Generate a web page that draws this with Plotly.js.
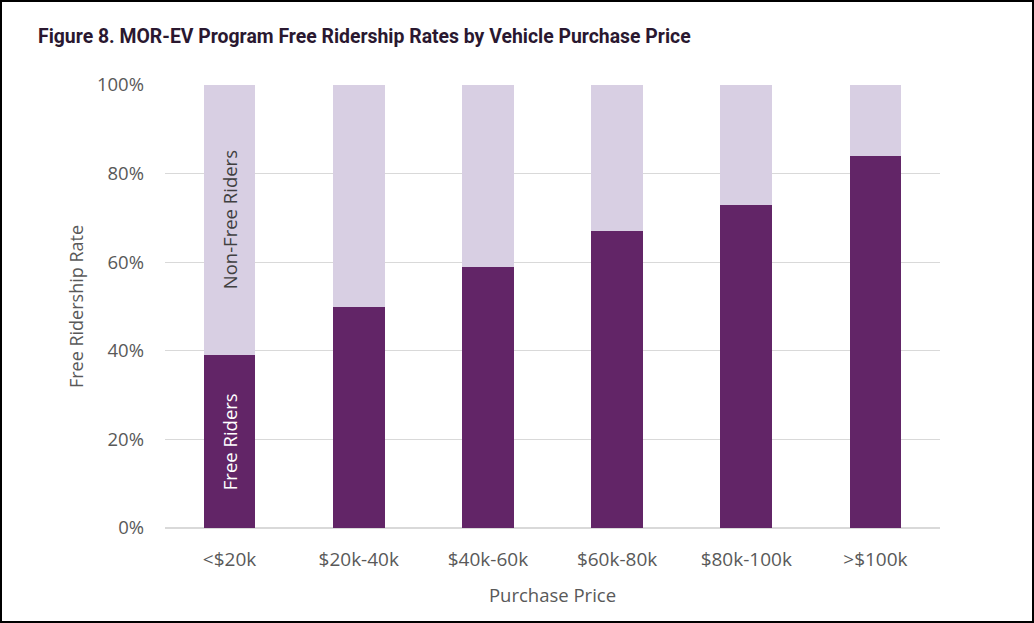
<!DOCTYPE html>
<html><head><meta charset="utf-8">
<script src="https://cdn.plot.ly/plotly-3.0.1.min.js"></script>
<style>
html,body{margin:0;padding:0;background:#fff;}
#wrap{position:relative;width:1034px;height:623px;}
#chart{width:1034px;height:623px;}
#frame{position:absolute;left:0;top:0;width:1034px;height:623px;box-sizing:border-box;border:2px solid #000;pointer-events:none;}
</style></head>
<body>
<div id="wrap"><div id="chart"></div><div id="frame"></div></div>
<script>
const categories = ['<$20k', '$20k-40k', '$40k-60k', '$60k-80k', '$80k-100k', '>$100k'];
const freeRiders = [0.39, 0.50, 0.59, 0.67, 0.73, 0.84];
const nonFreeRiders = [0.61, 0.50, 0.41, 0.33, 0.27, 0.16];
const yTicks = [0, 0.2, 0.4, 0.6, 0.8, 1.0];

const fontFam = 'Open Sans, Carlito, Arial, sans-serif';
const data = [
  {type:'bar', name:'Free Riders', x:categories, y:freeRiders, marker:{color:'#622567'}, width:0.4, hoverinfo:'none'},
  {type:'bar', name:'Non-Free Riders', x:categories, y:nonFreeRiders, marker:{color:'#d8cfe3'}, width:0.4, hoverinfo:'none'}
];
const layout = {
  width:1034, height:623,
  barmode:'stack',
  showlegend:false,
  paper_bgcolor:'#fff', plot_bgcolor:'#fff',
  margin:{l:165, r:94, t:85, b:95},
  font:{family:fontFam, color:'#595959', size:17},
  title:{text:'Figure 8. MOR-EV Program Free Ridership Rates by Vehicle Purchase Price',
    x:38/1034, xanchor:'left', xref:'container', y:1-36/623, yanchor:'middle', yref:'container',
    font:{family:'Roboto, Arial, sans-serif', size:19.4, color:'#2a1830', weight:'bold'}},
  xaxis:{type:'category', showgrid:false, zeroline:false, showline:false, ticks:'',
    tickfont:{size:19, color:'#595959'}, ticklabelstandoff:18,
    title:{text:'Purchase Price', font:{size:18.5, color:'#595959'}, standoff:18}},
  yaxis:{range:[0,1], tickvals:yTicks, tickformat:'.0%', showgrid:true, gridcolor:'#d9d9d9', gridwidth:1.3,
    zeroline:true, zerolinecolor:'#d9d9d9', zerolinewidth:1.3, showline:false, ticks:'',
    tickfont:{size:18.5, color:'#595959'}, ticklabelstandoff:20,
    title:{text:'Free Ridership Rate', font:{size:18, color:'#595959'}, standoff:8}},
  annotations:[
    {x:categories[0], y:0.696, xref:'x', yref:'y', text:'Non-Free Riders', textangle:-90, showarrow:false,
      font:{size:18.5, color:'#404040', family:fontFam}},
    {x:categories[0], y:0.195, xref:'x', yref:'y', text:'Free Riders', textangle:-90, showarrow:false,
      font:{size:18.5, color:'#ffffff', family:fontFam}}
  ]
};
Plotly.newPlot('chart', data, layout, {displayModeBar:false, staticPlot:true});
</script>
</body></html>
